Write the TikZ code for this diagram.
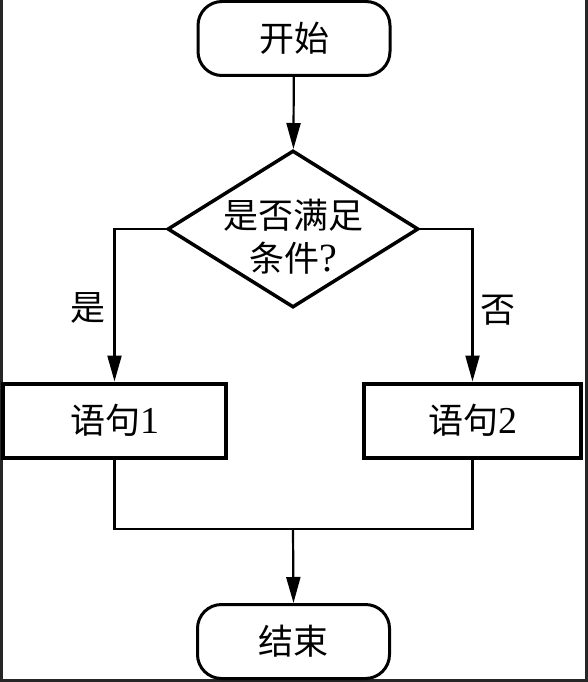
\documentclass[tikz,border=0pt]{standalone}
\usepackage{fontspec}
\setmainfont{Liberation Serif}
\newfontfamily\cjk{Noto Sans CJK SC}
\usetikzlibrary{shapes.geometric,arrows.meta}
\tikzset{
  txt/.style={font=\fontsize{35}{43}\selectfont},
  term/.style={txt,draw,line width=3pt,rounded corners=24pt,minimum width=192pt,minimum height=74pt,inner sep=0pt},
  procbox/.style={txt,draw,line width=4pt,minimum height=74pt,inner sep=0pt},
  decision/.style={draw,diamond,line width=3.5pt,minimum width=251pt,minimum height=157pt,aspect=1.6,inner sep=0pt},
  conn/.style={line width=2.2pt},
  arr/.style={conn,-{Triangle[length=26pt,width=14pt]}},
  frame/.style={line width=3pt,draw=black!85}
}
\begin{document}
\begin{tikzpicture}[x=1pt,y=-1pt]
\useasboundingbox (0,0) rectangle (588,682);
% frame
\draw[frame] (1.5,0) -- (1.5,680.5) -- (586.5,680.5) -- (586.5,0);
% nodes
\node[term] (start) at (294,38.5) {\cjk 开始};
\node[decision] (dec) at (293,229) {};
\node[txt,align=center] (dectext) at (293,237) {{\cjk 是否满足}\\{\cjk 条件}{\fontsize{40}{43}\selectfont ?}};
\node[procbox,minimum width=223pt] (s1) at (114.5,420.5) {{\cjk 语句}{\fontsize{38}{43}\selectfont 1}};
\node[procbox,minimum width=217pt] (s2) at (472.5,420.5) {{\cjk 语句}{\fontsize{38}{43}\selectfont 2}};
\node[term] (end) at (293.5,641.5) {\cjk 结束};
\node[txt] (yes) at (88,308) {\cjk 是};
\node[txt] (no) at (498,310) {\cjk 否};
\coordinate (m) at (293,529);
% connectors
\draw[arr] (start) -- (dec);
\draw[arr] (dec.west) -| (s1.north);
\draw[arr] (dec.east) -| (s2.north);
\draw[conn] (s1.south) |- (m) -| (s2.south);
\draw[arr] (m) -- (end.north);
\end{tikzpicture}
\end{document}
